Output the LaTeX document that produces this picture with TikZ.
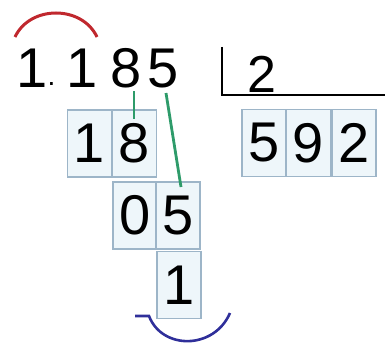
\documentclass[tikz,border=0pt]{standalone}
\usepackage{fontspec}
\setmainfont{Liberation Sans}
\definecolor{boxc}{HTML}{9DB5C8}
\definecolor{boxf}{HTML}{EEF6FA}
\definecolor{linkc}{HTML}{2E9B6A}
\definecolor{arcred}{HTML}{C0282E}
\definecolor{arcblue}{HTML}{2F2F9A}
\begin{document}
\begin{tikzpicture}[x=1pt,y=-1pt,
  digitbox/.style={draw=boxc, fill=boxf, line width=1.3pt, minimum width=44pt,
    minimum height=67pt, inner sep=0pt, font=\fontsize{56}{56}\selectfont},
  bigdigit/.style={font=\fontsize{56}{56}\selectfont, inner sep=0pt, anchor=base},
  link/.style={draw=linkc, line width=2.8pt},
  bracket/.style={draw=black, line width=2.4pt}]
\useasboundingbox (0,0) rectangle (385,345);
% dividend
\node[bigdigit] (t1) at (32,87) {1};
\node[font=\fontsize{28}{28}\selectfont, inner sep=0pt, anchor=base west] (tdot) at (47.5,85) {.};
\node[bigdigit] (t2) at (82,87) {1};
\node[bigdigit] (t8) at (126,87) {8};
\node[bigdigit] (t5) at (163,87) {5};
% divisor
\node[font=\fontsize{52}{52}\selectfont, inner sep=0pt, anchor=base] (dv) at (262,92) {2};
\coordinate (btop) at (222,47);
\coordinate (bcorner) at (222,95);
\coordinate (bend) at (385,95);
\draw[bracket] (btop) -- (bcorner) -- (bend);
% boxes
\node[digitbox] (r1a) at (89.5,143.5) {1};
\node[digitbox] (r1b) at (134.5,143.5) {8};
\node[digitbox] (r2b) at (135,215.5) {0};
\node[digitbox] (r2c) at (178,215.5) {5};
\node[digitbox] (r3c) at (179,285) {1};
\node[digitbox] (q1) at (264,143) {5};
\node[digitbox] (q2) at (308.5,143) {9};
\node[digitbox] (q3) at (354,143) {2};
% links
\coordinate (l1s) at (134,91);
\coordinate (l1e) at (134,119);
\draw[link] (l1s) -- (l1e);
\coordinate (l2s) at (166,93);
\coordinate (l2e) at (181,187);
\draw[link] (l2s) -- (l2e);
% arcs
\draw[draw=arcred, line width=3pt] (15,37) .. controls (30,5) and (82,5) .. (97,37);
\draw[draw=arcblue, line width=2.6pt] (135,316) -- (149,316) .. controls (162,350) and (214,350) .. (230,313);
\end{tikzpicture}
\end{document}
